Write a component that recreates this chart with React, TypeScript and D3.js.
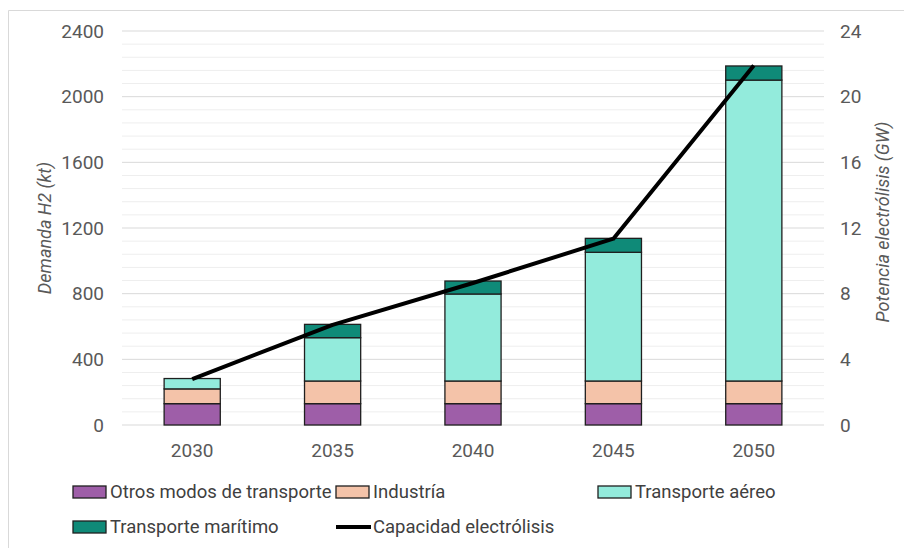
import React from "react";
import * as d3 from "d3";

const years = ["2030", "2035", "2040", "2045", "2050"];
const otros = [130, 130, 130, 130, 130];
const industria = [90, 138, 138, 138, 138];
const aereo = [63, 264, 530, 784, 1833];
const maritimo = [0, 81, 79, 85, 86];
const capacidad = [2.8, 6.1, 8.65, 11.35, 21.9];
const leftTicks = [0, 400, 800, 1200, 1600, 2000, 2400];
const rightTicks = [0, 4, 8, 12, 16, 20, 24];

const seriesNames = ["Otros modos de transporte", "Industría", "Transporte aéreo", "Transporte marítimo"];
const seriesColors = ["#9E5EA8", "#F4C3A9", "#93EBDC", "#0F8A78"];

const W = 904, H = 548;
const left = 122, right = 824, top = 31, bottom = 425;
const FONT = "Roboto, 'Open Sans', sans-serif";

export default function App() {
  const x = d3.scaleBand<string>().domain(years).range([left, right]).paddingInner(0.6).paddingOuter(0.3);
  const y = d3.scaleLinear().domain([0, 2400]).range([bottom, top]);
  const y2 = d3.scaleLinear().domain([0, 24]).range([bottom, top]);

  const rows = years.map((yr, i) => ({ yr, s0: otros[i], s1: industria[i], s2: aereo[i], s3: maritimo[i] }));
  const stack = d3.stack<any>().keys(["s0", "s1", "s2", "s3"])(rows);

  const minor = d3.range(0, 2401, 80);
  const line = d3.line<number>().x((_, i) => (x(years[i]) as number) + x.bandwidth() / 2).y((d) => y2(d));

  const legendItems = [
    { name: seriesNames[0], color: seriesColors[0], lx: 73, ly: 492, type: "rect" },
    { name: seriesNames[1], color: seriesColors[1], lx: 336, ly: 492, type: "rect" },
    { name: seriesNames[2], color: seriesColors[2], lx: 598, ly: 492, type: "rect" },
    { name: seriesNames[3], color: seriesColors[3], lx: 73, ly: 527, type: "rect" },
    { name: "Capacidad electrólisis", color: "#000", lx: 336, ly: 527, type: "line" },
  ];

  return (
    <svg width={W} height={H} style={{ position: "absolute", left: 0, top: 0 }} fontFamily={FONT}>
      <rect x={0} y={0} width={W} height={H} fill="#fff" />
      <line x1={8.5} x2={W} y1={10.5} y2={10.5} stroke="#d9d9d9" />
      <line x1={8.5} x2={8.5} y1={10.5} y2={H} stroke="#d9d9d9" />
      {minor.map((v) => (
        <line key={v} x1={left} x2={right} y1={y(v)} y2={y(v)} stroke={v % 400 === 0 ? "#d9d9d9" : "#eeeeee"} strokeWidth={1} />
      ))}
      {stack.map((layer, li) => (
        <g key={li}>
          {layer.map((d, i) =>
            d[1] - d[0] > 0 ? (
              <rect key={i} x={x(years[i])} width={x.bandwidth()} y={y(d[1])} height={y(d[0]) - y(d[1])}
                fill={seriesColors[li]} stroke="#1f1f1f" strokeWidth={1.3} />
            ) : null
          )}
        </g>
      ))}
      <path d={line(capacidad) || ""} fill="none" stroke="#000" strokeWidth={4} strokeLinejoin="round" />
      {leftTicks.map((t) => (
        <text key={t} x={104} y={y(t)} dy="0.35em" textAnchor="end" fontSize={19} fill="#595959">{t}</text>
      ))}
      {rightTicks.map((t) => (
        <text key={t} x={840} y={y2(t)} dy="0.35em" textAnchor="start" fontSize={19} fill="#595959">{t}</text>
      ))}
      {years.map((yr) => (
        <text key={yr} x={(x(yr) as number) + x.bandwidth() / 2} y={457} textAnchor="middle" fontSize={19} fill="#595959">{yr}</text>
      ))}
      <text transform={`translate(51,${(top + bottom) / 2}) rotate(-90)`} textAnchor="middle" fontSize={18} fontStyle="italic" fill="#595959">Demanda H2 (kt)</text>
      <text transform={`translate(889,222) rotate(-90)`} textAnchor="middle" fontSize={18} fontStyle="italic" fill="#595959">Potencia electrólisis (GW)</text>
      {legendItems.map((it) => (
        <g key={it.name}>
          {it.type === "rect" ? (
            <rect x={it.lx} y={it.ly - 6} width={33} height={12} fill={it.color} stroke="#1f1f1f" strokeWidth={1.3} />
          ) : (
            <line x1={it.lx} x2={it.lx + 35} y1={it.ly} y2={it.ly} stroke="#000" strokeWidth={4} />
          )}
          <text x={it.lx + 37} y={it.ly} dy="0.35em" fontSize={18.5} fill="#404040">{it.name}</text>
        </g>
      ))}
    </svg>
  );
}
